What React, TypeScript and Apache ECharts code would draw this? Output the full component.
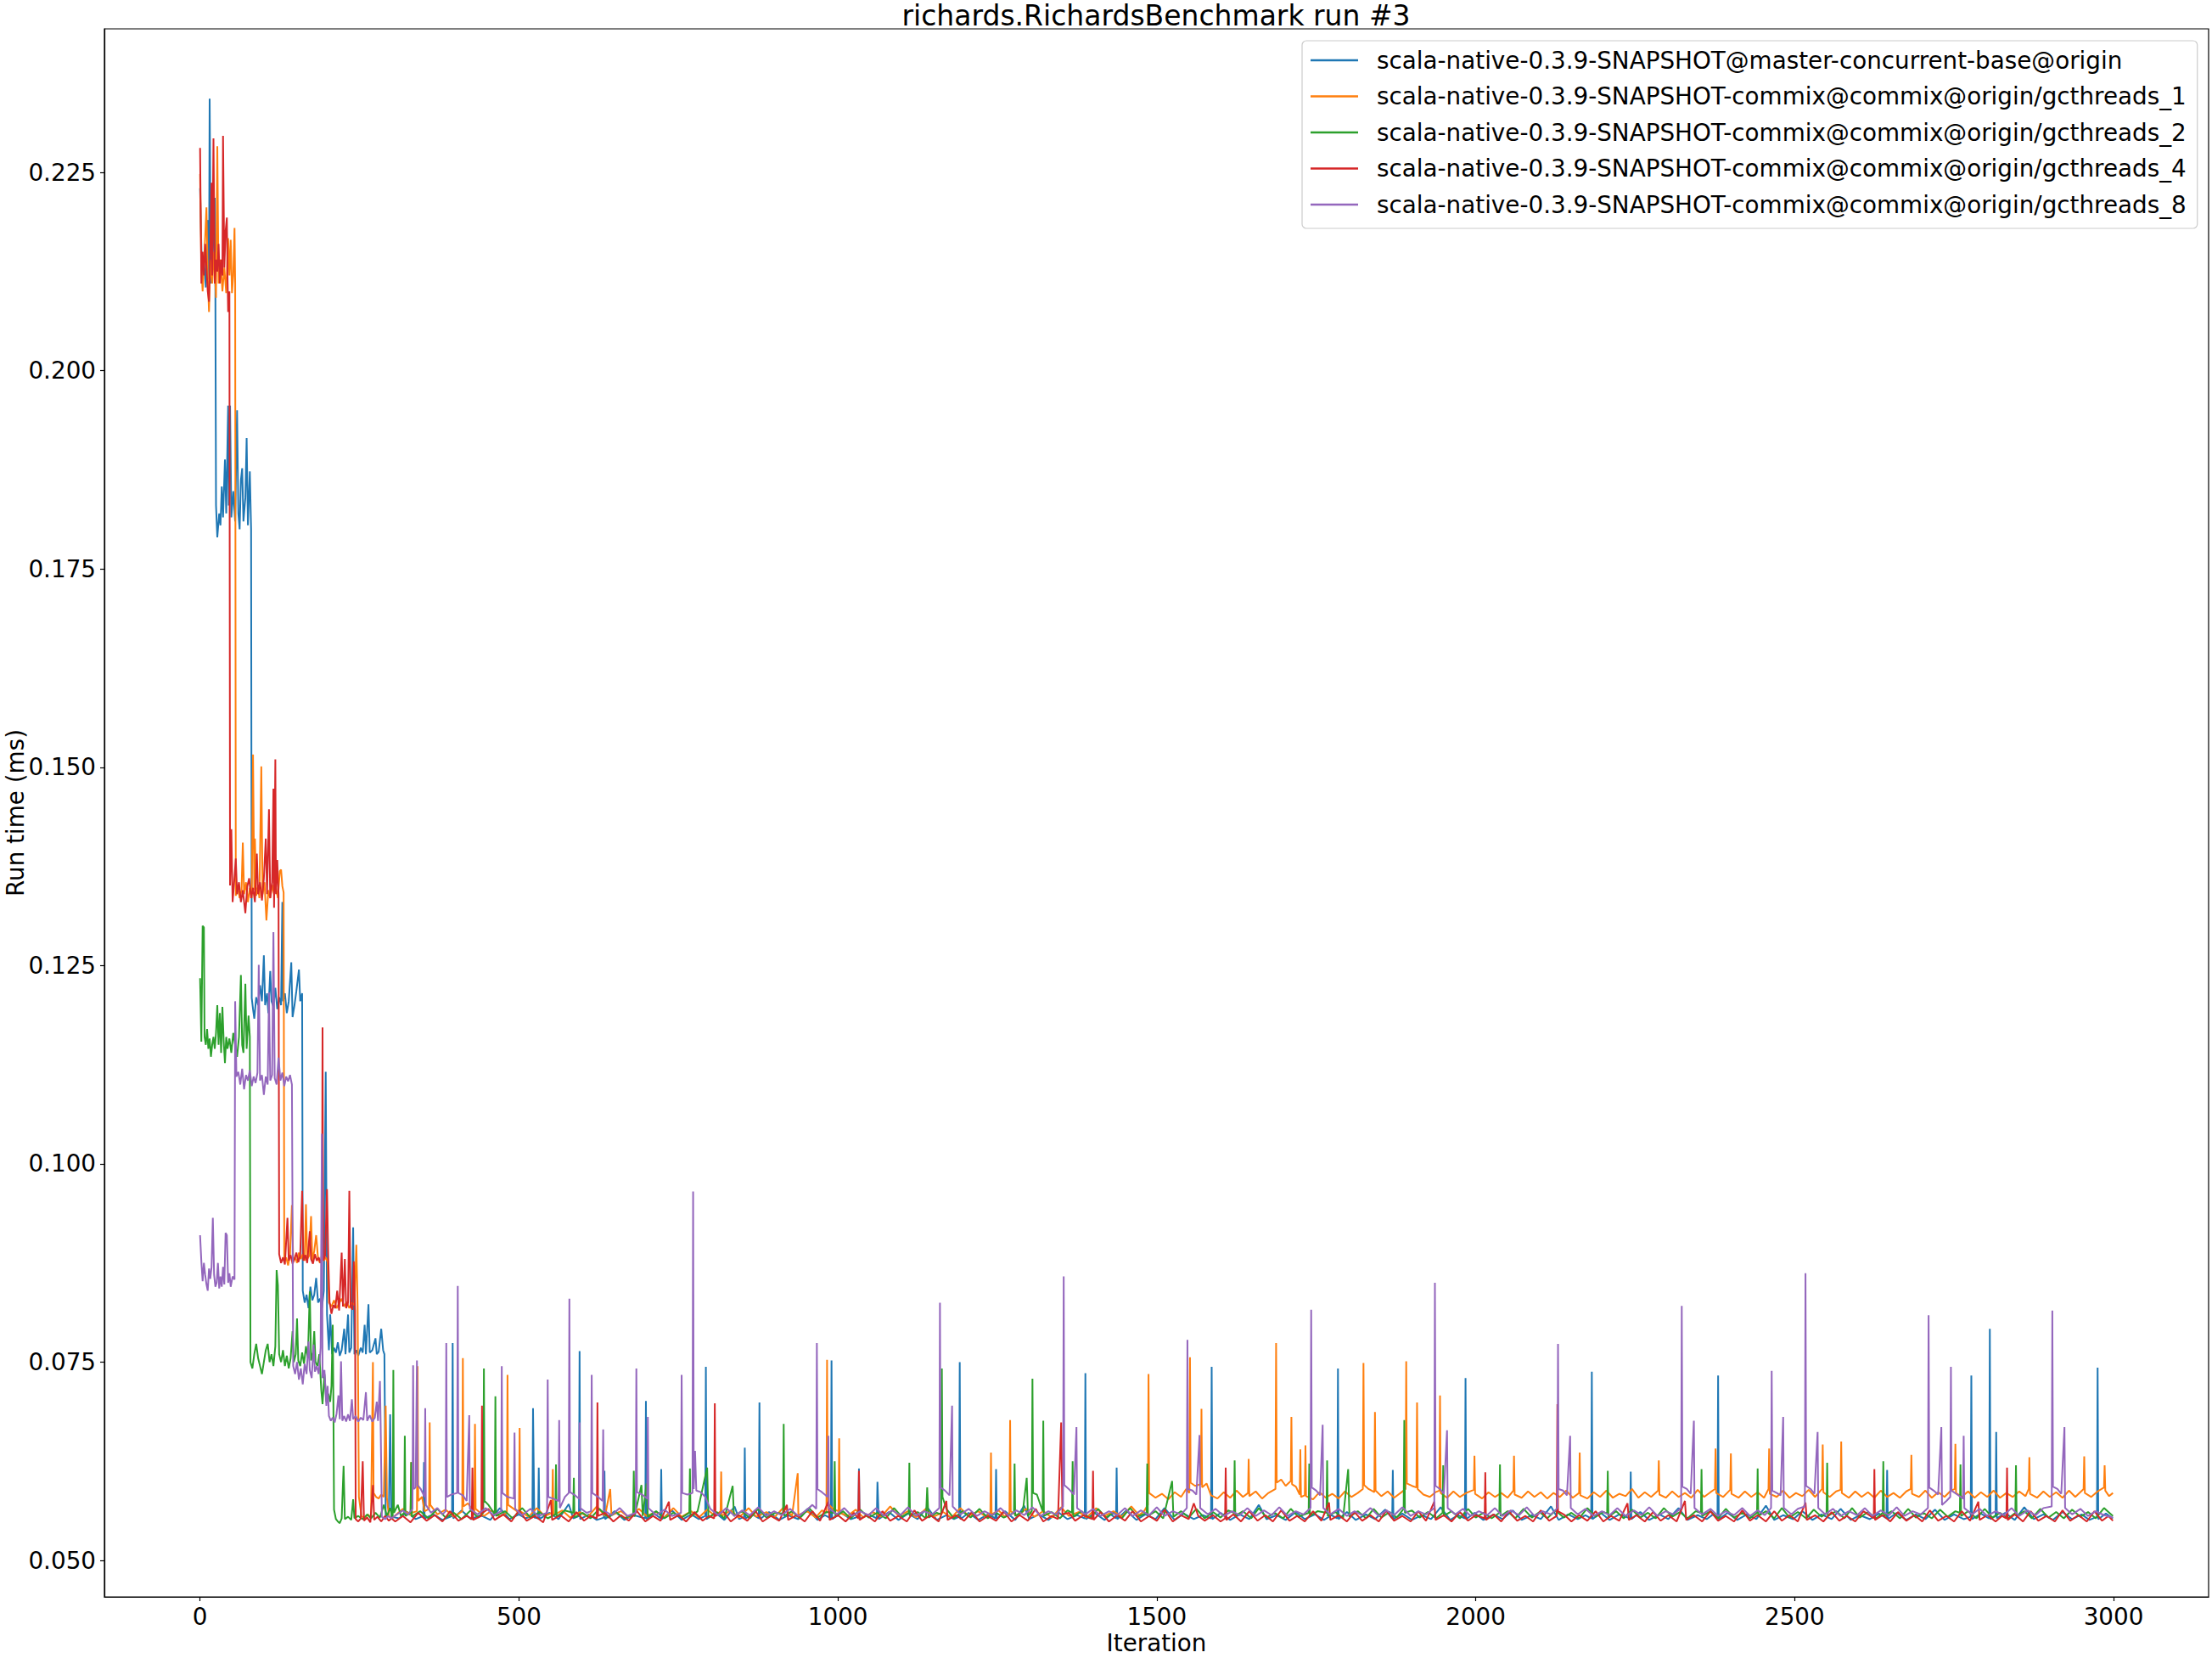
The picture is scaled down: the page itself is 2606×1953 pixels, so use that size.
import React, { useEffect, useRef } from "react";
import * as echarts from "echarts";

const TITLE = "richards.RichardsBenchmark run #3";
const X_NAME = "Iteration";
const Y_NAME = "Run time (ms)";
const SERIES_NAMES = [
  "scala-native-0.3.9-SNAPSHOT@master-concurrent-base@origin",
  "scala-native-0.3.9-SNAPSHOT-commix@commix@origin/gcthreads_1",
  "scala-native-0.3.9-SNAPSHOT-commix@commix@origin/gcthreads_2",
  "scala-native-0.3.9-SNAPSHOT-commix@commix@origin/gcthreads_4",
  "scala-native-0.3.9-SNAPSHOT-commix@commix@origin/gcthreads_8",
];
const COLORS = ["#1f77b4", "#ff7f0e", "#2ca02c", "#d62728", "#9467bd"];
const X_TICKS = [0, 500, 1000, 1500, 2000, 2500, 3000];
const Y_TICKS = [0.05, 0.075, 0.1, 0.125, 0.15, 0.175, 0.2, 0.225];

type P = [number, number];

const blueEarly: P[] = [[0,.2230],[3,.2120],[6,.2140],[9,.2105],[12,.2190],[14,.2115],[15,.2343],[17,.2110],[20,.2150],[23,.2218],[24,.2100],[25,.1830],[27,.1790],[30,.1820],[32,.1805],[34,.1854],[36,.1815],[39,.1888],[41,.1820],[44,.1956],[45,.1830],[47,.1956],[49,.1815],[52,.1848],[55,.1810],[58,.1950],[60,.1820],[62,.1800],[64,.1862],[66,.1877],[68,.1810],[71,.1840],[73,.1915],[75,.1805],[78,.1873],[80,.1800],[81,.1209],[83,.1195],[85,.1183],[88,.1210],[91,.1200],[94,.1225],[97,.1205],[100,.1263],[102,.1200],[105,.1215],[107,.1190],[110,.1243],[112,.1205],[115,.1198],[118,.1222],[121,.1195],[124,.1210],[127,.1200],[129,.1330],[130,.1205],[133,.1215],[136,.1190],[139,.1205],[143,.1254],[145,.1185],[148,.1200],[151,.1218],[155,.1245],[157,.1205],[160,.1215],[161,.0840],[164,.0825],[167,.0835],[170,.0818],[173,.0845],[176,.0828],[179,.0835],[182,.0856],[185,.0825],[188,.0830],[191,.0818],[194,.0840],[197,.1116],[199,.0810],[202,.0765],[204,.0810],[207,.0760],[210,.0768],[213,.0762],[216,.0775],[219,.0758],[222,.0765],[226,.0792],[228,.0760],[232,.0810],[234,.0762],[237,.0768],[240,.0920],[242,.0760],[245,.0765],[248,.0758],[252,.0768],[255,.0762],[258,.0797],[260,.0760],[264,.0823],[266,.0762],[270,.0765],[275,.0780],[277,.0760],[280,.0763],[284,.0792],[287,.0765],[289,.0760],[291,.0555],[296,.0560],[298,.0684],[300,.0555]];
const blueLate: P[] = [[312,.0553],[325,.0561],[338,.0552],[350,.0556],[351,.0624],[352,.0553],[366,.0558],[380,.0551],[395,.0556],[396,.0774],[397,.0553],[410,.0563],[425,.0552],[440,.0557],[455,.0551],[470,.0566],[485,.0552],[500,.0558],[510,.0553],[521,.0556],[522,.0692],[524,.0554],[530,.0553],[531,.0617],[532,.0552],[548,.0560],[562,.0552],[578,.0571],[585,.0553],[594,.0556],[595,.0764],[596,.0552],[610,.0558],[622,.0551],[633,.0554],[634,.0613],[635,.0552],[650,.0562],[665,.0551],[680,.0557],[698,.0553],[699,.0701],[700,.0552],[712,.0559],[722,.0553],[723,.0615],[724,.0552],[740,.0563],[755,.0551],[770,.0558],[782,.0552],[792,.0556],[793,.0744],[794,.0552],[808,.0560],[822,.0551],[838,.0568],[845,.0552],[853,.0555],[854,.0642],[855,.0553],[866,.0558],[876,.0553],[877,.0699],[878,.0552],[892,.0561],[908,.0551],[922,.0557],[938,.0552],[952,.0565],[968,.0551],[980,.0557],[989,.0553],[990,.0752],[991,.0552],[1005,.0560],[1020,.0552],[1032,.0555],[1033,.0616],[1034,.0552],[1048,.0558],[1061,.0553],[1062,.0599],[1064,.0552],[1080,.0561],[1095,.0551],[1110,.0559],[1125,.0552],[1140,.0567],[1155,.0551],[1170,.0557],[1182,.0552],[1190,.0555],[1191,.0750],[1192,.0552],[1205,.0560],[1220,.0551],[1235,.0558],[1247,.0553],[1248,.0615],[1249,.0552],[1262,.0562],[1278,.0551],[1292,.0569],[1300,.0552],[1315,.0558],[1330,.0551],[1345,.0561],[1360,.0552],[1375,.0557],[1387,.0553],[1388,.0736],[1389,.0552],[1402,.0560],[1418,.0551],[1428,.0558],[1436,.0553],[1437,.0617],[1438,.0552],[1452,.0563],[1468,.0551],[1482,.0558],[1498,.0552],[1512,.0566],[1528,.0551],[1542,.0559],[1558,.0552],[1572,.0557],[1585,.0553],[1586,.0744],[1587,.0552],[1600,.0560],[1615,.0551],[1630,.0558],[1645,.0552],[1660,.0570],[1672,.0552],[1688,.0557],[1702,.0551],[1718,.0561],[1732,.0552],[1748,.0558],[1762,.0551],[1774,.0557],[1783,.0553],[1784,.0742],[1785,.0552],[1798,.0561],[1812,.0551],[1828,.0558],[1842,.0552],[1858,.0564],[1869,.0553],[1870,.0614],[1871,.0552],[1885,.0559],[1900,.0551],[1915,.0557],[1930,.0552],[1945,.0567],[1960,.0551],[1972,.0557],[1983,.0553],[1984,.0730],[1985,.0552],[1998,.0560],[2012,.0551],[2028,.0558],[2042,.0552],[2058,.0563],[2072,.0551],[2088,.0557],[2102,.0552],[2118,.0568],[2130,.0551],[2145,.0558],[2160,.0552],[2172,.0557],[2181,.0553],[2182,.0738],[2183,.0552],[2196,.0560],[2210,.0551],[2225,.0558],[2242,.0553],[2243,.0612],[2244,.0552],[2258,.0561],[2272,.0551],[2288,.0558],[2302,.0552],[2318,.0566],[2332,.0551],[2348,.0557],[2362,.0552],[2372,.0558],[2379,.0553],[2380,.0733],[2381,.0552],[2395,.0560],[2410,.0551],[2425,.0558],[2440,.0552],[2455,.0569],[2468,.0551],[2482,.0557],[2498,.0552],[2512,.0562],[2528,.0551],[2542,.0558],[2558,.0552],[2572,.0565],[2588,.0551],[2602,.0557],[2618,.0552],[2632,.0559],[2644,.0553],[2645,.0614],[2646,.0552],[2660,.0560],[2675,.0551],[2690,.0558],[2705,.0552],[2720,.0564],[2735,.0551],[2750,.0558],[2765,.0552],[2776,.0555],[2777,.0733],[2778,.0552],[2792,.0559],[2805,.0553],[2806,.0792],[2807,.0552],[2815,.0556],[2816,.0662],[2817,.0553],[2830,.0560],[2845,.0551],[2860,.0567],[2875,.0552],[2890,.0558],[2905,.0551],[2920,.0561],[2935,.0552],[2950,.0558],[2962,.0551],[2974,.0555],[2975,.0743],[2976,.0552],[2988,.0559],[2999,.0553]];

const orangeEarly: P[] = [[0,.2248],[2,.2130],[4,.2100],[7,.2150],[10,.2206],[12,.2120],[14,.2074],[16,.2140],[19,.2110],[22,.2150],[25,.2092],[27,.2283],[29,.2110],[32,.2140],[35,.2100],[38,.2130],[41,.2098],[44,.2167],[46,.2120],[48,.2165],[50,.2098],[52,.2120],[54,.2180],[55,.2110],[56,.1338],[59,.1350],[62,.1335],[65,.1345],[67,.1405],[69,.1340],[72,.1355],[75,.1330],[78,.1348],[81,.1335],[83,.1516],[85,.1345],[86,.1410],[88,.1338],[91,.1350],[93,.1335],[96,.1501],[98,.1340],[101,.1355],[104,.1307],[107,.1345],[110,.1335],[113,.1352],[116,.1340],[119,.1348],[122,.1335],[125,.1369],[127,.1371],[129,.1350],[131,.1342],[132,.0877],[135,.0882],[138,.0872],[141,.0885],[144,.0948],[146,.0878],[149,.0882],[152,.0875],[155,.0888],[158,.0880],[161,.0886],[164,.0878],[166,.0949],[168,.0880],[171,.0884],[174,.0934],[176,.0878],[179,.0890],[182,.0910],[185,.0880],[188,.0875],[191,.0885],[194,.0878],[197,.0882],[200,.0876],[202,.0825],[206,.0820],[210,.0828],[214,.0818],[218,.0824],[222,.0830],[226,.0820],[230,.0826],[234,.0818],[238,.0825],[242,.0822],[245,.0898],[247,.0820],[249,.0580],[253,.0556],[258,.0553],[263,.0558],[268,.0554],[271,.0750],[272,.0585],[276,.0580],[280,.0578],[284,.0583],[288,.0580],[291,.0695],[293,.0578],[296,.0556],[300,.0553]];
const orangeLate: P[] = [[305,.0556],[318,.0565],[330,.0557],[331,.0624],[332,.0560],[340,.0562],[341,.0745],[342,.0575],[348,.0580],[352,.0562],[359,.0565],[360,.0674],[361,.0570],[372,.0558],[385,.0564],[398,.0555],[411,.0562],[412,.0755],[413,.0568],[420,.0572],[430,.0560],[431,.0672],[432,.0565],[445,.0556],[458,.0563],[470,.0555],[481,.0560],[482,.0734],[483,.0570],[490,.0566],[500,.0560],[501,.0667],[502,.0562],[515,.0555],[528,.0566],[540,.0556],[552,.0560],[553,.0615],[554,.0557],[568,.0563],[580,.0554],[595,.0561],[608,.0555],[622,.0568],[635,.0556],[643,.0590],[645,.0557],[660,.0562],[672,.0554],[688,.0565],[700,.0556],[715,.0561],[728,.0554],[742,.0566],[755,.0555],[770,.0562],[782,.0554],[795,.0564],[808,.0556],[816,.0562],[817,.0612],[818,.0556],[832,.0563],[845,.0554],[860,.0566],[872,.0555],[888,.0561],[900,.0554],[915,.0567],[928,.0556],[937,.0610],[938,.0557],[952,.0562],[965,.0554],[975,.0563],[982,.0560],[983,.0753],[984,.0572],[992,.0565],[1001,.0562],[1002,.0654],[1003,.0560],[1015,.0556],[1028,.0564],[1040,.0554],[1055,.0561],[1068,.0555],[1082,.0568],[1095,.0556],[1110,.0562],[1122,.0554],[1138,.0565],[1150,.0555],[1165,.0561],[1178,.0554],[1192,.0566],[1205,.0556],[1220,.0562],[1232,.0555],[1239,.0560],[1240,.0636],[1241,.0558],[1252,.0563],[1262,.0555],[1269,.0560],[1270,.0677],[1271,.0562],[1282,.0556],[1295,.0565],[1308,.0555],[1322,.0562],[1335,.0554],[1350,.0567],[1362,.0556],[1378,.0561],[1390,.0554],[1405,.0566],[1418,.0556],[1432,.0562],[1445,.0555],[1460,.0568],[1472,.0557],[1480,.0562],[1486,.0570],[1487,.0735],[1488,.0585],[1498,.0579],[1508,.0584],[1518,.0577],[1528,.0586],[1538,.0580],[1546,.0590],[1551,.0585],[1552,.0756],[1553,.0598],[1560,.0594],[1569,.0596],[1570,.0691],[1571,.0592],[1578,.0597],[1585,.0582],[1595,.0578],[1605,.0586],[1615,.0579],[1625,.0588],[1635,.0580],[1643,.0585],[1644,.0628],[1645,.0581],[1655,.0587],[1665,.0578],[1675,.0585],[1686,.0590],[1687,.0774],[1688,.0598],[1695,.0602],[1702,.0594],[1710,.0600],[1711,.0681],[1712,.0596],[1718,.0593],[1724,.0583],[1725,.0640],[1726,.0580],[1732,.0582],[1733,.0645],[1734,.0581],[1745,.0577],[1755,.0586],[1765,.0579],[1775,.0584],[1785,.0578],[1795,.0587],[1805,.0580],[1815,.0585],[1823,.0590],[1824,.0749],[1825,.0595],[1832,.0590],[1841,.0586],[1842,.0687],[1843,.0588],[1852,.0581],[1862,.0587],[1872,.0579],[1882,.0585],[1890,.0590],[1891,.0751],[1892,.0597],[1900,.0594],[1907,.0592],[1908,.0699],[1909,.0590],[1918,.0583],[1928,.0580],[1937,.0586],[1943,.0588],[1944,.0708],[1945,.0585],[1955,.0579],[1965,.0587],[1975,.0580],[1985,.0585],[1997,.0589],[1998,.0632],[1999,.0584],[2010,.0578],[2020,.0586],[2030,.0580],[2040,.0585],[2050,.0579],[2059,.0588],[2060,.0632],[2061,.0583],[2072,.0579],[2082,.0587],[2092,.0580],[2102,.0586],[2112,.0578],[2122,.0585],[2132,.0580],[2142,.0588],[2152,.0579],[2162,.0585],[2163,.0636],[2164,.0582],[2175,.0578],[2185,.0586],[2195,.0580],[2205,.0588],[2215,.0579],[2225,.0584],[2235,.0581],[2245,.0590],[2255,.0579],[2265,.0586],[2275,.0580],[2286,.0588],[2287,.0626],[2288,.0583],[2298,.0579],[2308,.0587],[2318,.0580],[2328,.0585],[2338,.0579],[2348,.0589],[2358,.0580],[2368,.0586],[2375,.0590],[2376,.0641],[2377,.0585],[2388,.0580],[2399,.0589],[2400,.0635],[2401,.0584],[2412,.0579],[2422,.0587],[2432,.0580],[2442,.0586],[2452,.0579],[2459,.0590],[2460,.0641],[2461,.0584],[2472,.0580],[2482,.0588],[2492,.0579],[2502,.0585],[2512,.0581],[2522,.0589],[2532,.0580],[2543,.0590],[2544,.0646],[2545,.0586],[2555,.0580],[2565,.0587],[2572,.0589],[2573,.0650],[2574,.0585],[2585,.0579],[2595,.0587],[2605,.0580],[2615,.0586],[2625,.0579],[2635,.0588],[2645,.0580],[2655,.0585],[2665,.0579],[2675,.0587],[2682,.0590],[2683,.0633],[2684,.0584],[2695,.0580],[2705,.0588],[2715,.0579],[2725,.0586],[2735,.0580],[2745,.0588],[2751,.0590],[2752,.0647],[2753,.0585],[2762,.0580],[2772,.0587],[2782,.0579],[2792,.0586],[2802,.0580],[2812,.0588],[2822,.0579],[2832,.0585],[2842,.0580],[2852,.0587],[2862,.0581],[2867,.0590],[2868,.0630],[2869,.0584],[2880,.0579],[2890,.0587],[2900,.0580],[2910,.0586],[2920,.0579],[2930,.0588],[2940,.0580],[2953,.0590],[2954,.0631],[2955,.0585],[2965,.0580],[2975,.0587],[2985,.0592],[2986,.0620],[2987,.0588],[2993,.0581],[2999,.0585]];

const greenEarly: P[] = [[0,.1234],[2,.1154],[4,.1300],[6,.1298],[7,.1160],[9,.1150],[11,.1170],[13,.1145],[15,.1158],[17,.1135],[19,.1150],[21,.1160],[23,.1145],[25,.1165],[27,.1200],[29,.1150],[31,.1190],[33,.1140],[35,.1198],[37,.1155],[39,.1127],[41,.1160],[43,.1145],[46,.1158],[49,.1140],[52,.1165],[55,.1150],[58,.1135],[61,.1160],[64,.1238],[66,.1150],[68,.1140],[71,.1227],[73,.1145],[76,.1187],[78,.1160],[79,.0750],[82,.0742],[85,.0760],[88,.0773],[91,.0755],[94,.0745],[97,.0735],[100,.0750],[103,.0765],[106,.0773],[109,.0750],[112,.0760],[115,.0745],[118,.0770],[120,.0866],[122,.0847],[124,.0760],[127,.0750],[130,.0765],[133,.0745],[136,.0758],[139,.0742],[142,.0755],[145,.0789],[147,.0750],[150,.0760],[152,.0805],[154,.0752],[157,.0745],[160,.0762],[163,.0748],[166,.0770],[169,.0755],[172,.0839],[174,.0752],[177,.0762],[179,.0789],[181,.0750],[184,.0745],[187,.0760],[190,.0715],[192,.0697],[195,.0735],[198,.0700],[201,.0710],[204,.0700],[206,.0720],[208,.0797],[209,.0700],[210,.0564],[213,.0552],[216,.0549],[219,.0547],[222,.0553],[225,.0619],[227,.0552],[232,.0555],[237,.0551],[240,.0577],[242,.0553],[248,.0556],[255,.0552],[262,.0558],[268,.0553],[275,.0560],[282,.0554],[288,.0570],[293,.0556],[298,.0566],[302,.0553],[303,.0740],[304,.0560],[310,.0570],[315,.0556]];
const greenLate: P[] = [[320,.0560],[321,.0657],[322,.0556],[330,.0560],[331,.0624],[332,.0555],[345,.0562],[358,.0553],[372,.0565],[385,.0554],[398,.0560],[410,.0552],[424,.0563],[436,.0554],[444,.0560],[445,.0742],[446,.0575],[452,.0570],[462,.0558],[463,.0707],[464,.0556],[478,.0562],[490,.0553],[505,.0566],[518,.0554],[532,.0561],[545,.0553],[557,.0558],[558,.0621],[559,.0555],[572,.0563],[585,.0560],[586,.0604],[587,.0554],[600,.0560],[612,.0553],[626,.0565],[640,.0554],[652,.0561],[665,.0553],[679,.0558],[680,.0613],[681,.0555],[692,.0595],[694,.0556],[700,.0597],[702,.0555],[715,.0562],[728,.0553],[742,.0560],[755,.0554],[767,.0560],[768,.0616],[769,.0555],[780,.0562],[795,.0617],[797,.0554],[810,.0561],[822,.0553],[835,.0594],[837,.0556],[850,.0562],[862,.0553],[875,.0565],[888,.0554],[902,.0560],[914,.0559],[915,.0672],[916,.0556],[928,.0562],[940,.0553],[955,.0566],[968,.0554],[982,.0561],[994,.0560],[995,.0625],[996,.0555],[1008,.0562],[1020,.0553],[1035,.0564],[1048,.0554],[1062,.0560],[1075,.0553],[1088,.0566],[1100,.0555],[1111,.0560],[1112,.0623],[1113,.0556],[1125,.0561],[1138,.0553],[1140,.0592],[1142,.0554],[1155,.0560],[1162,.0558],[1163,.0742],[1164,.0580],[1170,.0565],[1182,.0553],[1195,.0562],[1208,.0554],[1222,.0565],[1235,.0553],[1248,.0560],[1260,.0554],[1276,.0560],[1277,.0622],[1278,.0556],[1290,.0562],[1296,.0604],[1298,.0556],[1304,.0562],[1305,.0729],[1306,.0585],[1312,.0583],[1321,.0562],[1322,.0676],[1323,.0556],[1335,.0561],[1348,.0553],[1360,.0563],[1367,.0560],[1368,.0625],[1369,.0555],[1382,.0562],[1395,.0553],[1408,.0565],[1420,.0554],[1432,.0560],[1445,.0553],[1458,.0566],[1470,.0555],[1484,.0560],[1485,.0622],[1486,.0556],[1498,.0562],[1510,.0553],[1524,.0600],[1526,.0555],[1538,.0562],[1550,.0554],[1562,.0565],[1575,.0553],[1588,.0561],[1600,.0554],[1612,.0563],[1621,.0560],[1622,.0626],[1623,.0556],[1635,.0562],[1648,.0553],[1660,.0566],[1672,.0554],[1685,.0560],[1698,.0553],[1710,.0565],[1722,.0555],[1738,.0560],[1739,.0622],[1740,.0556],[1752,.0562],[1766,.0560],[1767,.0626],[1768,.0556],[1780,.0561],[1792,.0553],[1800,.0615],[1802,.0555],[1815,.0562],[1828,.0553],[1840,.0565],[1852,.0554],[1865,.0561],[1876,.0554],[1887,.0565],[1888,.0677],[1889,.0560],[1900,.0563],[1912,.0554],[1925,.0561],[1938,.0553],[1948,.0560],[1949,.0620],[1950,.0556],[1962,.0562],[1975,.0553],[1988,.0565],[2000,.0554],[2012,.0560],[2025,.0553],[2037,.0560],[2038,.0621],[2039,.0556],[2050,.0562],[2062,.0553],[2075,.0565],[2088,.0554],[2100,.0561],[2112,.0553],[2125,.0563],[2138,.0554],[2150,.0560],[2162,.0553],[2175,.0566],[2188,.0555],[2200,.0561],[2206,.0559],[2207,.0613],[2208,.0555],[2220,.0562],[2232,.0553],[2245,.0564],[2258,.0554],[2270,.0560],[2282,.0553],[2295,.0566],[2308,.0555],[2320,.0561],[2332,.0553],[2345,.0562],[2353,.0560],[2354,.0615],[2355,.0556],[2368,.0562],[2380,.0553],[2392,.0565],[2405,.0554],[2418,.0560],[2430,.0553],[2441,.0560],[2442,.0616],[2443,.0556],[2455,.0562],[2468,.0553],[2480,.0566],[2492,.0554],[2505,.0561],[2518,.0553],[2530,.0564],[2542,.0555],[2550,.0560],[2551,.0623],[2552,.0556],[2565,.0562],[2578,.0553],[2590,.0566],[2602,.0554],[2615,.0561],[2628,.0553],[2638,.0560],[2639,.0625],[2640,.0556],[2652,.0562],[2665,.0553],[2678,.0565],[2690,.0554],[2702,.0560],[2715,.0553],[2728,.0564],[2740,.0555],[2752,.0562],[2759,.0560],[2760,.0621],[2761,.0556],[2772,.0562],[2785,.0553],[2798,.0565],[2810,.0554],[2822,.0560],[2835,.0553],[2846,.0560],[2847,.0620],[2848,.0556],[2860,.0562],[2872,.0553],[2885,.0565],[2898,.0554],[2910,.0561],[2922,.0553],[2935,.0564],[2948,.0555],[2960,.0561],[2972,.0553],[2985,.0566],[2999,.0556]];

const redEarly: P[] = [[0,.2281],[2,.2110],[4,.2150],[6,.2120],[8,.2160],[10,.2130],[12,.2100],[14,.2087],[16,.2150],[18,.2237],[19,.2120],[21,.2293],[23,.2110],[25,.2140],[27,.2125],[29,.2160],[31,.2110],[33,.2140],[35,.2120],[36,.2296],[38,.2130],[40,.2176],[42,.2193],[43,.2120],[44,.2074],[46,.2100],[47,.1351],[49,.1422],[51,.1330],[53,.1350],[56,.1385],[58,.1340],[61,.1355],[64,.1330],[67,.1345],[71,.1316],[74,.1350],[77,.1360],[80,.1335],[83,.1348],[86,.1330],[89,.1391],[91,.1340],[94,.1355],[97,.1332],[100,.1360],[103,.1410],[105,.1340],[108,.1447],[110,.1335],[113,.1355],[115,.1473],[116,.1323],[118,.1510],[119,.1340],[121,.1383],[123,.1340],[124,.0886],[127,.0875],[130,.0882],[133,.0873],[137,.0932],[139,.0878],[142,.0885],[145,.0874],[148,.0880],[151,.0888],[154,.0876],[157,.0884],[160,.0966],[162,.0878],[165,.0885],[168,.0875],[172,.0915],[174,.0880],[177,.0874],[180,.0886],[183,.0878],[186,.0882],[189,.0875],[191,.0880],[192,.1172],[193,.0878],[196,.0884],[199,.0968],[201,.0880],[203,.0826],[206,.0811],[209,.0822],[212,.0818],[215,.0840],[218,.0815],[222,.0888],[224,.0820],[227,.0880],[229,.0818],[232,.0825],[234,.0966],[236,.0820],[239,.0816],[241,.0877],[243,.0815],[244,.0552],[248,.0549],[252,.0553],[255,.0625],[257,.0550],[262,.0554],[267,.0548],[271,.0595],[273,.0551],[278,.0555],[284,.0549],[290,.0556],[296,.0550],[300,.0553]];
const redLate: P[] = [[306,.0549],[318,.0556],[330,.0548],[342,.0560],[355,.0550],[368,.0557],[380,.0549],[392,.0562],[405,.0550],[418,.0556],[426,.0552],[427,.0617],[428,.0551],[441,.0556],[442,.0695],[443,.0560],[452,.0565],[462,.0551],[475,.0558],[488,.0549],[500,.0563],[512,.0550],[525,.0556],[538,.0548],[550,.0576],[552,.0551],[565,.0557],[578,.0549],[590,.0561],[602,.0550],[612,.0556],[622,.0553],[623,.0699],[624,.0556],[635,.0560],[648,.0549],[660,.0557],[672,.0550],[685,.0562],[698,.0549],[710,.0556],[722,.0550],[735,.0574],[737,.0551],[750,.0557],[762,.0549],[775,.0561],[788,.0550],[798,.0556],[806,.0553],[807,.0698],[808,.0556],[820,.0562],[832,.0549],[845,.0557],[858,.0550],[870,.0563],[882,.0549],[895,.0556],[908,.0550],[920,.0570],[922,.0551],[935,.0557],[948,.0549],[960,.0562],[972,.0550],[985,.0574],[987,.0551],[1000,.0557],[1012,.0549],[1025,.0560],[1032,.0553],[1033,.0613],[1034,.0551],[1045,.0557],[1058,.0549],[1070,.0562],[1082,.0550],[1095,.0556],[1108,.0549],[1120,.0563],[1132,.0550],[1145,.0557],[1158,.0549],[1170,.0575],[1172,.0551],[1185,.0557],[1198,.0550],[1210,.0561],[1222,.0549],[1235,.0556],[1248,.0550],[1260,.0562],[1272,.0549],[1285,.0557],[1298,.0550],[1310,.0565],[1322,.0549],[1335,.0556],[1345,.0552],[1350,.0674],[1352,.0558],[1362,.0560],[1372,.0550],[1385,.0557],[1399,.0552],[1400,.0613],[1401,.0551],[1412,.0561],[1425,.0549],[1438,.0557],[1450,.0550],[1462,.0562],[1475,.0549],[1488,.0556],[1500,.0550],[1512,.0564],[1525,.0549],[1538,.0557],[1550,.0552],[1558,.0572],[1565,.0556],[1575,.0550],[1588,.0557],[1600,.0549],[1607,.0553],[1608,.0617],[1609,.0551],[1620,.0558],[1632,.0549],[1645,.0562],[1658,.0550],[1670,.0557],[1682,.0549],[1695,.0563],[1708,.0550],[1720,.0556],[1732,.0549],[1745,.0562],[1758,.0550],[1770,.0573],[1772,.0551],[1785,.0557],[1798,.0549],[1810,.0561],[1822,.0550],[1835,.0557],[1848,.0549],[1860,.0563],[1872,.0550],[1885,.0556],[1898,.0549],[1910,.0562],[1922,.0550],[1935,.0574],[1937,.0551],[1950,.0557],[1962,.0549],[1975,.0561],[1988,.0550],[2000,.0557],[2014,.0553],[2015,.0611],[2016,.0551],[2028,.0558],[2040,.0549],[2052,.0562],[2065,.0550],[2078,.0556],[2090,.0549],[2102,.0563],[2115,.0550],[2127,.0556],[2128,.0697],[2129,.0562],[2138,.0558],[2150,.0549],[2162,.0557],[2175,.0550],[2188,.0562],[2200,.0549],[2212,.0556],[2225,.0550],[2238,.0572],[2240,.0551],[2252,.0557],[2265,.0549],[2278,.0561],[2290,.0550],[2302,.0557],[2315,.0549],[2328,.0575],[2330,.0551],[2342,.0557],[2355,.0549],[2368,.0562],[2380,.0550],[2392,.0556],[2405,.0549],[2418,.0563],[2430,.0550],[2442,.0557],[2455,.0549],[2468,.0562],[2480,.0550],[2492,.0557],[2505,.0549],[2517,.0573],[2519,.0551],[2532,.0557],[2545,.0549],[2558,.0561],[2570,.0550],[2582,.0556],[2595,.0549],[2608,.0562],[2624,.0553],[2625,.0615],[2626,.0551],[2638,.0557],[2650,.0549],[2662,.0561],[2675,.0550],[2688,.0557],[2700,.0549],[2712,.0563],[2725,.0550],[2738,.0556],[2750,.0549],[2762,.0562],[2775,.0550],[2788,.0574],[2790,.0551],[2802,.0557],[2815,.0549],[2825,.0556],[2832,.0553],[2833,.0617],[2834,.0551],[2845,.0558],[2858,.0549],[2870,.0562],[2882,.0550],[2895,.0556],[2908,.0549],[2920,.0563],[2932,.0550],[2945,.0557],[2958,.0549],[2970,.0562],[2982,.0550],[2992,.0556],[2999,.0550]];

const purpleEarly: P[] = [[0,.0910],[2,.0877],[4,.0852],[6,.0875],[8,.0860],[10,.0848],[12,.0840],[14,.0868],[16,.0855],[18,.0870],[20,.0932],[22,.0860],[24,.0845],[26,.0850],[28,.0875],[30,.0843],[32,.0858],[34,.0845],[36,.0870],[38,.0848],[40,.0913],[42,.0910],[44,.0850],[46,.0862],[48,.0845],[51,.0858],[54,.0854],[55,.1205],[57,.1110],[60,.1116],[63,.1100],[66,.1120],[69,.1094],[72,.1112],[75,.1105],[78,.1118],[81,.1098],[84,.1110],[87,.1102],[90,.1115],[92,.1251],[94,.1105],[97,.1112],[100,.1087],[103,.1110],[106,.1100],[108,.1216],[110,.1105],[113,.1112],[115,.1292],[117,.1108],[120,.1100],[123,.1134],[126,.1105],[129,.1115],[132,.1098],[135,.1110],[138,.1104],[141,.1112],[144,.1100],[146,.0745],[149,.0735],[152,.0750],[155,.0728],[158,.0742],[161,.0722],[164,.0748],[167,.0735],[170,.0776],[172,.0740],[175,.0730],[178,.0772],[180,.0738],[183,.0745],[186,.0735],[189,.0768],[191,.1038],[192,.0730],[195,.0740],[198,.0695],[200,.0720],[202,.0682],[205,.0676],[208,.0680],[211,.0674],[214,.0685],[217,.0708],[219,.0678],[221,.0751],[223,.0676],[226,.0682],[229,.0675],[232,.0684],[235,.0676],[238,.0703],[240,.0678],[244,.0682],[248,.0675],[252,.0680],[256,.0677],[260,.0712],[262,.0676],[266,.0683],[270,.0675],[274,.0680],[277,.0700],[279,.0676],[282,.0726],[283,.0678],[285,.0555],[290,.0552],[295,.0556],[300,.0553]];
const purpleLate: P[] = [[305,.0556],[318,.0563],[326,.0558],[333,.0565],[334,.0746],[335,.0590],[338,.0592],[340,.0752],[341,.0595],[346,.0590],[352,.0580],[353,.0692],[354,.0570],[362,.0560],[372,.0566],[380,.0558],[385,.0562],[386,.0774],[387,.0580],[394,.0583],[403,.0585],[404,.0846],[405,.0585],[412,.0582],[418,.0575],[422,.0683],[423,.0565],[435,.0558],[448,.0566],[460,.0557],[472,.0562],[473,.0745],[474,.0585],[482,.0580],[492,.0578],[493,.0661],[494,.0565],[505,.0557],[518,.0565],[530,.0556],[544,.0560],[545,.0728],[546,.0580],[553,.0578],[562,.0575],[563,.0677],[564,.0566],[572,.0580],[578,.0585],[579,.0830],[580,.0586],[588,.0582],[594,.0578],[595,.0674],[596,.0566],[606,.0560],[613,.0562],[614,.0734],[615,.0585],[624,.0580],[631,.0575],[632,.0665],[633,.0563],[645,.0557],[658,.0566],[670,.0556],[683,.0560],[684,.0742],[685,.0586],[693,.0583],[701,.0578],[702,.0681],[703,.0566],[715,.0557],[728,.0564],[740,.0556],[754,.0560],[755,.0734],[756,.0585],[764,.0583],[772,.0585],[773,.0965],[774,.0590],[776,.0638],[778,.0588],[785,.0586],[792,.0580],[800,.0565],[812,.0557],[825,.0566],[838,.0556],[850,.0563],[862,.0557],[875,.0567],[888,.0556],[900,.0562],[912,.0557],[925,.0565],[938,.0556],[950,.0563],[960,.0570],[966,.0565],[967,.0774],[968,.0590],[975,.0586],[984,.0580],[985,.0657],[986,.0566],[998,.0558],[1010,.0566],[1022,.0556],[1035,.0562],[1048,.0557],[1060,.0566],[1072,.0556],[1085,.0563],[1098,.0557],[1110,.0567],[1122,.0556],[1135,.0562],[1148,.0558],[1159,.0566],[1160,.0825],[1161,.0592],[1168,.0588],[1175,.0582],[1179,.0695],[1180,.0568],[1192,.0558],[1205,.0565],[1218,.0556],[1230,.0562],[1242,.0557],[1255,.0566],[1268,.0556],[1280,.0563],[1292,.0557],[1305,.0567],[1318,.0556],[1330,.0562],[1342,.0558],[1353,.0568],[1354,.0858],[1355,.0595],[1362,.0590],[1370,.0583],[1374,.0668],[1375,.0566],[1388,.0558],[1400,.0565],[1412,.0556],[1425,.0562],[1438,.0557],[1450,.0566],[1462,.0556],[1475,.0563],[1488,.0557],[1500,.0567],[1512,.0556],[1525,.0562],[1538,.0558],[1547,.0566],[1548,.0778],[1549,.0590],[1556,.0588],[1562,.0583],[1567,.0658],[1568,.0566],[1580,.0558],[1592,.0565],[1605,.0556],[1618,.0562],[1630,.0557],[1642,.0566],[1655,.0556],[1668,.0563],[1680,.0557],[1692,.0567],[1705,.0556],[1718,.0562],[1730,.0558],[1741,.0566],[1742,.0816],[1743,.0592],[1750,.0588],[1756,.0582],[1760,.0671],[1761,.0566],[1772,.0558],[1785,.0565],[1798,.0556],[1810,.0562],[1822,.0557],[1835,.0566],[1848,.0556],[1860,.0563],[1872,.0557],[1885,.0567],[1898,.0556],[1910,.0562],[1922,.0558],[1935,.0566],[1936,.0850],[1937,.0594],[1944,.0590],[1950,.0584],[1955,.0664],[1956,.0566],[1968,.0558],[1980,.0565],[1992,.0556],[2005,.0562],[2018,.0557],[2030,.0566],[2042,.0556],[2055,.0563],[2068,.0557],[2080,.0567],[2092,.0556],[2105,.0562],[2118,.0558],[2128,.0566],[2129,.0773],[2130,.0590],[2137,.0588],[2143,.0582],[2148,.0657],[2149,.0566],[2160,.0558],[2172,.0565],[2185,.0556],[2198,.0562],[2210,.0557],[2222,.0566],[2235,.0556],[2248,.0563],[2260,.0557],[2272,.0567],[2285,.0556],[2298,.0562],[2310,.0558],[2322,.0566],[2323,.0821],[2324,.0593],[2331,.0590],[2337,.0584],[2342,.0676],[2343,.0566],[2355,.0558],[2368,.0565],[2380,.0556],[2392,.0562],[2405,.0557],[2418,.0566],[2430,.0556],[2442,.0563],[2453,.0557],[2463,.0566],[2464,.0739],[2465,.0588],[2472,.0585],[2478,.0582],[2482,.0681],[2483,.0566],[2495,.0558],[2505,.0565],[2516,.0568],[2517,.0862],[2518,.0594],[2525,.0590],[2531,.0584],[2536,.0662],[2537,.0566],[2548,.0558],[2560,.0565],[2572,.0556],[2585,.0562],[2598,.0557],[2610,.0566],[2622,.0556],[2635,.0563],[2648,.0557],[2660,.0567],[2672,.0556],[2685,.0562],[2698,.0558],[2709,.0566],[2710,.0809],[2711,.0592],[2718,.0588],[2725,.0583],[2730,.0668],[2731,.0570],[2738,.0575],[2744,.0580],[2745,.0744],[2746,.0588],[2755,.0583],[2764,.0578],[2765,.0657],[2766,.0566],[2778,.0558],[2790,.0565],[2802,.0556],[2815,.0562],[2828,.0557],[2840,.0566],[2852,.0556],[2865,.0563],[2878,.0557],[2890,.0566],[2903,.0568],[2904,.0815],[2905,.0593],[2912,.0590],[2918,.0584],[2923,.0668],[2924,.0566],[2935,.0558],[2948,.0565],[2960,.0556],[2972,.0562],[2985,.0557],[2999,.0554]];

const SERIES_DATA: P[][] = [
  blueEarly.concat(blueLate),
  orangeEarly.concat(orangeLate),
  greenEarly.concat(greenLate),
  redEarly.concat(redLate),
  purpleEarly.concat(purpleLate),
];

const FONT = "DejaVu Sans";

export default function App() {
  const ref = useRef<HTMLDivElement>(null);
  useEffect(() => {
    const chart = echarts.init(ref.current as HTMLDivElement, null, { renderer: "svg" });
    chart.setOption({
      animation: false,
      backgroundColor: "#ffffff",
      textStyle: { fontFamily: FONT, color: "#000" },
      grid: {
        left: 123, right: 4, top: 34, bottom: 72,
        show: true, borderColor: "#000", borderWidth: 1.2,
        containLabel: false, outerBoundsMode: "none",
      },
      graphic: [
        {
          type: "text", x: 1362, y: 2, z: 100,
          style: {
            text: TITLE, fontSize: 33, fontFamily: FONT, fill: "#000",
            textAlign: "center", textVerticalAlign: "top",
          },
        },
      ],
      legend: {
        orient: "vertical", left: 1534, top: 48,
        padding: [7, 13, 12, 10], itemGap: 10.5, itemWidth: 56, itemHeight: 2.5,
        icon: "rect",
        backgroundColor: "rgba(255,255,255,0.8)", borderColor: "#cccccc",
        borderWidth: 1.2, borderRadius: 5,
        textStyle: { fontSize: 27.8, color: "#000", fontFamily: FONT, lineHeight: 32, padding: [0, 0, 0, 17] },
        data: SERIES_NAMES,
        selectedMode: false,
      },
      xAxis: {
        type: "value", min: -150, max: 3149,
        name: X_NAME, nameLocation: "middle", nameGap: 40, nameMoveOverlap: false,
        nameTextStyle: { fontSize: 27.8, color: "#000", fontFamily: FONT },
        axisLine: { show: true, onZero: false, lineStyle: { color: "#000", width: 1.2 } },
        axisTick: { show: true, length: 5, lineStyle: { color: "#000", width: 1.2 }, customValues: X_TICKS },
        axisLabel: {
          fontSize: 27.8, color: "#000", margin: 9, fontFamily: FONT, customValues: X_TICKS,
          formatter: (v: number) => String(v),
        },
        splitLine: { show: false },
      },
      yAxis: {
        type: "value", min: 0.0454, max: 0.2431,
        name: Y_NAME, nameLocation: "middle", nameGap: 91, nameMoveOverlap: false,
        nameTextStyle: { fontSize: 27.8, color: "#000", fontFamily: FONT },
        axisLine: { show: true, onZero: false, lineStyle: { color: "#000", width: 1.2 } },
        axisTick: { show: true, length: 5, lineStyle: { color: "#000", width: 1.2 }, customValues: Y_TICKS },
        axisLabel: {
          fontSize: 27.8, color: "#000", margin: 10, fontFamily: FONT, customValues: Y_TICKS,
          formatter: (v: number) => v.toFixed(3),
        },
        splitLine: { show: false },
      },
      series: SERIES_DATA.map((d, i) => ({
        name: SERIES_NAMES[i],
        type: "line",
        data: d,
        symbol: "none",
        showSymbol: false,
        color: COLORS[i],
        lineStyle: { color: COLORS[i], width: 2 },
        emphasis: { disabled: true },
        silent: true,
        clip: true,
      })),
    });
    return () => chart.dispose();
  }, []);
  return (
    <div
      ref={ref}
      style={{ position: "absolute", left: 0, top: 0, width: 2606, height: 1953, background: "#fff" }}
    />
  );
}
